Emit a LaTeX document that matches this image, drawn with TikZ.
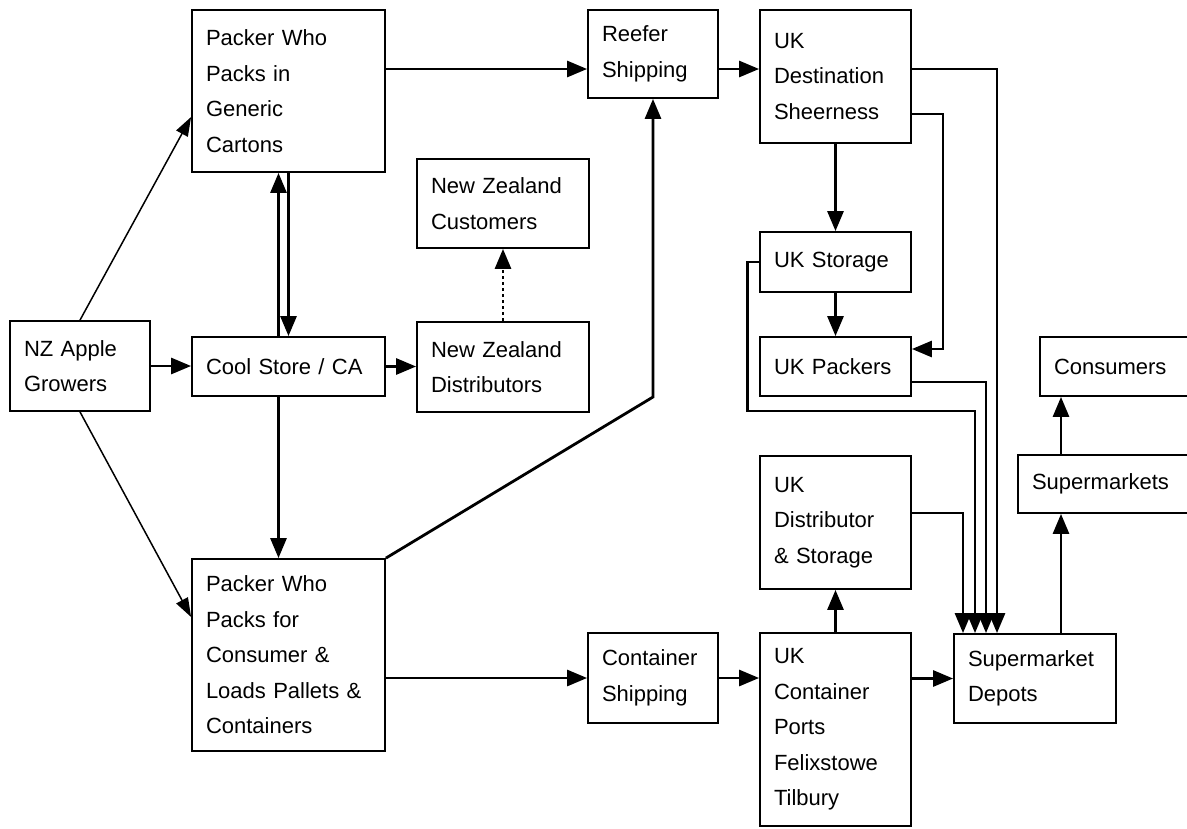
\documentclass[tikz,border=0pt]{standalone}
\usepackage{fontspec}
\setmainfont{Liberation Sans}
\usepackage{tikz}
\usetikzlibrary{arrows.meta,calc}

\begin{document}
\begin{tikzpicture}[
    x=1pt,y=-1pt,
    font=\fontsize{22}{35.5}\selectfont,
    box/.style={draw,line width=1.8pt,align=left,inner xsep=14pt,inner ysep=0pt},
    flow/.style={-{Triangle[length=20pt,width=16pt]},line width=2.8pt},
    thin/.style={-{Triangle[length=19pt,width=13pt]},line width=1.5pt},
    link/.style={line width=2.8pt}
  ]
  \useasboundingbox (0,0) rectangle (1187,828);

  % New Zealand side
  \node[box,text width=112pt,minimum height=90pt] (growers) at (80,366) {NZ Apple\\Growers};
  \node[box,text width=165pt,minimum height=59pt] (cool) at (288.5,366.5) {Cool Store / CA};
  \node[box,text width=165pt,minimum height=162pt] (generic) at (288.5,91) {Packer Who\\Packs in\\Generic\\Cartons};
  \node[box,text width=165pt,minimum height=192pt] (retail) at (288.5,655) {Packer Who\\Packs for\\Consumer \&\\Loads Pallets \&\\Containers};
  \node[box,text width=144pt,minimum height=89pt] (nzcust) at (503,203.5) {New Zealand\\Customers};
  \node[box,text width=144pt,minimum height=90pt] (nzdist) at (503,367) {New Zealand\\Distributors};

  % shipping
  \node[box,text width=102pt,minimum height=88pt] (reefer) at (653,54) {Reefer\\Shipping};
  \node[box,text width=102pt,minimum height=90pt] (contship) at (653,678) {Container\\Shipping};

  % UK side
  \node[box,text width=123pt,minimum height=133pt] (ukdest) at (835.5,76.5) {UK\\Destination\\Sheerness};
  \node[box,text width=123pt,minimum height=60pt] (ukstore) at (835.5,262) {UK Storage};
  \node[box,text width=123pt,minimum height=59pt] (ukpack) at (835.5,366.5) {UK Packers};
  \node[box,text width=123pt,minimum height=133pt] (ukdist) at (835.5,522.5) {UK\\Distributor\\\& Storage};
  \node[box,text width=123pt,minimum height=193pt] (ukports) at (835.5,729.5) {UK\\Container\\Ports\\Felixstowe\\Tilbury};
  \node[box,text width=134pt,minimum height=89pt] (depots) at (1035,678.5) {Supermarket\\Depots};
  \node[box,text width=154pt,minimum height=58pt] (supermkts) at (1109,484) {Supermarkets};
  \node[box,text width=132pt,minimum height=59pt] (consumers) at (1120,366.5) {Consumers};

  \coordinate (toprow) at (0,69);
  \coordinate (rbend) at (653,397);

  % growers and packers
  \draw[thin] (growers.north) -- ([yshift=-26pt]generic.west);
  \draw[thin] (growers.south) -- ([yshift=38pt]retail.west);
  \draw[flow] (growers.east) -- (growers.east -| cool.west);
  \draw[flow] ([xshift=-10pt]cool.north) -- ([xshift=-10pt]generic.south);
  \draw[flow] (generic.south) -- (cool.north);
  \draw[flow] ([xshift=-10pt]cool.south) -- ([xshift=-10pt]retail.north);
  \draw[flow] (cool.east) -- (cool.east -| nzdist.west);
  \draw[flow,dash pattern=on 3pt off 3pt] (nzdist.north) -- (nzcust.south);

  % to the ships
  \draw[flow] (generic.east |- toprow) -- (reefer.west |- toprow);
  \draw[flow] (retail.north east) -- (rbend) -- (reefer.south);
  \draw[flow] (retail.east |- contship.west) -- (contship.west);
  \draw[flow] (reefer.east |- toprow) -- (ukdest.west |- toprow);
  \draw[flow] (contship.east) -- (contship.east -| ukports.west);

  % UK
  \draw[flow] (ukdest.south) -- (ukstore.north);
  \draw[flow] (ukstore.south) -- (ukpack.north);
  \draw[flow] (ukports.north) -- (ukdist.south);
  \draw[flow] (ukports.east |- depots.west) -- (depots.west);
  \draw[flow] ([yshift=-37.5pt]ukdest.east) -- ++(31,0) |- ([yshift=17.5pt]ukpack.east);
  \draw[flow] (ukdest.east |- toprow) -| ([xshift=-38pt]depots.north);
  \draw[flow] ([yshift=-15.5pt]ukpack.east) -| ([xshift=-49pt]depots.north);
  \draw[flow] (ukstore.west) -- ++(-12,0) -- ++(0,149) -| ([xshift=-60pt]depots.north);
  \draw[flow] ([yshift=9.5pt]ukdist.east) -| ([xshift=-72pt]depots.north);
  \draw[flow] ([xshift=26pt]depots.north) -- ([xshift=26pt]depots.north |- supermkts.south);
  \draw[flow] ([xshift=26pt]depots.north |- supermkts.north) -- ([xshift=26pt]depots.north |- consumers.south);
\end{tikzpicture}
\end{document}
